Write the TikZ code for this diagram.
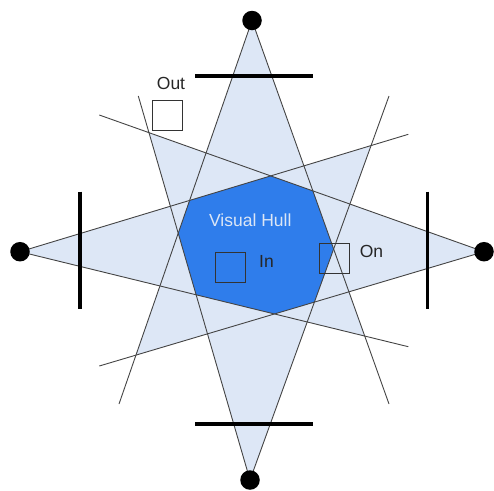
\documentclass[tikz,border=0pt]{standalone}
\usepackage{fontspec}
\setmainfont{Liberation Sans}
\usetikzlibrary{calc}
\definecolor{hullblue}{HTML}{2F7DEB}
\definecolor{conefill}{HTML}{DDE7F6}
\definecolor{hulltext}{HTML}{DCE6F5}
\definecolor{raygray}{HTML}{444444}
\definecolor{boxgray}{HTML}{333333}
\tikzset{
  cam/.style={circle,fill=black,inner sep=0pt,minimum size=19.5pt},
  ray/.style={draw=raygray,line width=0.9pt},
  imgplane/.style={draw=black,line width=3.3pt},
  voxel/.style={draw=boxgray,line width=1pt,minimum size=30pt,inner sep=0pt},
  lbl/.style={inner sep=0pt,font=\fontsize{17.5}{20}\selectfont,text=black!85},
  lightfill/.style={fill=conefill},
}
\begin{document}
\begin{tikzpicture}[x=1pt,y=-1pt]
\useasboundingbox (0,0) rectangle (494,490);
% camera centres and ray ends
\coordinate (T) at (252,20.5);
\coordinate (B) at (250,480);
\coordinate (L) at (20,251.7);
\coordinate (R) at (484,251.7);
\coordinate (TL) at (119,404);
\coordinate (TR) at (389,404);
\coordinate (BL) at (138.3,96);
\coordinate (BR) at (389,96);
\coordinate (LU) at (408.3,134.3);
\coordinate (LD) at (408.3,346.7);
\coordinate (RU) at (99.3,115);
\coordinate (RD) at (99.3,366);
% extended cone corners for filling
\coordinate (TLx) at ($(T)!3!(TL)$);
\coordinate (TRx) at ($(T)!3!(TR)$);
\coordinate (BLx) at ($(B)!3!(BL)$);
\coordinate (BRx) at ($(B)!3!(BR)$);
\coordinate (LUx) at ($(L)!3!(LU)$);
\coordinate (LDx) at ($(L)!3!(LD)$);
\coordinate (RUx) at ($(R)!3!(RU)$);
\coordinate (RDx) at ($(R)!3!(RD)$);
% pairwise cone intersections (light)
\begin{scope}\clip (T)--(TLx)--(TRx)--cycle; \fill[lightfill] (B)--(BLx)--(BRx)--cycle;\end{scope}
\begin{scope}\clip (T)--(TLx)--(TRx)--cycle; \fill[lightfill] (L)--(LUx)--(LDx)--cycle;\end{scope}
\begin{scope}\clip (T)--(TLx)--(TRx)--cycle; \fill[lightfill] (R)--(RUx)--(RDx)--cycle;\end{scope}
\begin{scope}\clip (B)--(BLx)--(BRx)--cycle; \fill[lightfill] (L)--(LUx)--(LDx)--cycle;\end{scope}
\begin{scope}\clip (B)--(BLx)--(BRx)--cycle; \fill[lightfill] (R)--(RUx)--(RDx)--cycle;\end{scope}
\begin{scope}\clip (L)--(LUx)--(LDx)--cycle; \fill[lightfill] (R)--(RUx)--(RDx)--cycle;\end{scope}
% visual hull
\begin{scope}
\clip (T)--(TLx)--(TRx)--cycle;
\clip (B)--(BLx)--(BRx)--cycle;
\clip (L)--(LUx)--(LDx)--cycle;
\fill[hullblue] (R)--(RUx)--(RDx)--cycle;
\end{scope}
% rays
\draw[ray] (TL) -- (T) -- (TR);
\draw[ray] (BL) -- (B) -- (BR);
\draw[ray] (LU) -- (L) -- (LD);
\draw[ray] (RU) -- (R) -- (RD);
% image planes
\coordinate (tp1) at (195,76);   \coordinate (tp2) at (313,76);
\coordinate (bp1) at (195,424);  \coordinate (bp2) at (313,424);
\coordinate (lp1) at (80,191.7); \coordinate (lp2) at (80,309);
\coordinate (rp1) at (427.7,191.7); \coordinate (rp2) at (427.7,309);
\draw[imgplane] (tp1) -- (tp2);
\draw[imgplane] (bp1) -- (bp2);
\draw[imgplane] (lp1) -- (lp2);
\draw[imgplane] (rp1) -- (rp2);
% cameras
\node[cam] (camT) at (T) {};
\node[cam] (camB) at (B) {};
\node[cam] (camL) at (L) {};
\node[cam] (camR) at (R) {};
% voxels
\node[voxel] (vout) at (167.7,115.3) {};
\node[voxel] (vin) at (230.3,267.2) {};
\node[voxel] (von) at (334,258.3) {};
% labels
\node[lbl,text=hulltext] (hull) at (250.3,220) {Visual Hull};
\node[lbl] (lout) at (171,83) {Out};
\node[lbl] (lin) at (266.5,261.5) {In};
\node[lbl] (lon) at (371.5,251.5) {On};
\end{tikzpicture}
\end{document}
